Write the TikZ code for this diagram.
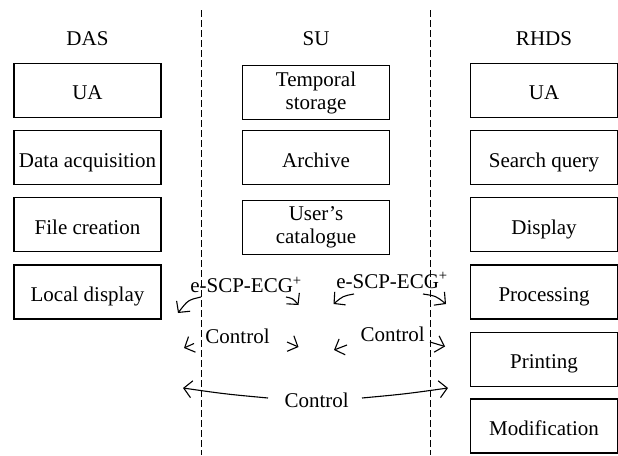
\documentclass[tikz,border=0pt]{standalone}
\usepackage{fontspec}
\setmainfont{Liberation Serif}
\usetikzlibrary{arrows.meta}

\begin{document}
\begin{tikzpicture}[x=1pt,y=-1pt,
  txt/.style={font=\fontsize{21}{23.3}\selectfont, inner sep=0pt},
  frame/.style={txt, draw, line width=1.2pt, minimum width=147pt, minimum height=54pt},
  boxone/.style={frame, text height=20pt, text depth=1pt},
  boxtwo/.style={frame, align=center, yshift=-2.5pt},
  title/.style={txt, anchor=base},
  lbl/.style={txt, anchor=base},
  divider/.style={line width=1pt, dash pattern=on 6.5pt off 3.5pt},
  flow/.style={line width=1.1pt, -{Straight Barb[length=8pt 0 0,width=17pt 0 0]}}
]
\useasboundingbox (0,0) rectangle (618,455);

% column headings
\node[title] (tdas) at (87.5,45) {DAS};
\node[title] (tsu)  at (316,45)  {SU};
\node[title] (trh)  at (544,45)  {RHDS};

% dividers between the three units
\coordinate (d1t) at (201,10);  \coordinate (d1b) at (201,455);
\coordinate (d2t) at (430,10);  \coordinate (d2b) at (430,455);
\draw[divider] (d1t) -- (d1b);
\draw[divider] (d2t) -- (d2b);

% DAS
\node[boxone] (das1) at (87.5,90.3)  {UA};
\node[boxone] (das2) at (87.5,157.5) {Data acquisition};
\node[boxone] (das3) at (87.5,224.7) {File creation};
\node[boxone] (das4) at (87.5,292)   {Local display};

% SU
\node[boxtwo] (su1) at (316,90.3)  {Temporal\\storage};
\node[boxone] (su2) at (316,157.5) {Archive};
\node[boxtwo] (su3) at (316,224.7) {User's\\catalogue};

% RHDS
\node[boxone] (rh1) at (544,90.3)  {UA};
\node[boxone] (rh2) at (544,157.5) {Search query};
\node[boxone] (rh3) at (544,224.7) {Display};
\node[boxone] (rh4) at (544,292)   {Processing};
\node[boxone] (rh5) at (544,359.3) {Printing};
\node[boxone] (rh6) at (544,426)   {Modification};

% exchange labels
\node[lbl] (ecgA) at (246,292.7) {e-SCP-ECG\textsuperscript{+}};
\node[lbl] (ecgB) at (392,288.3) {e-SCP-ECG\textsuperscript{+}};
\node[lbl] (ctlA) at (237.5,343.3) {Control};
\node[lbl] (ctlB) at (392.7,341.7) {Control};
\node[lbl] (ctlC) at (316.7,407.3) {Control};

% arrow ends
\coordinate (a1s) at (201,297);   \coordinate (a1e) at (178,313);
\coordinate (a2s) at (286,297);   \coordinate (a2e) at (298.5,305);
\coordinate (a3s) at (354,294);   \coordinate (a3e) at (333.5,304);
\coordinate (a4s) at (423,294);   \coordinate (a4e) at (446,304);
\coordinate (b1s) at (194,343.5); \coordinate (b1e) at (184,348);
\coordinate (b2s) at (287,342);   \coordinate (b2e) at (298.5,347);
\coordinate (b3s) at (347,345);   \coordinate (b3e) at (334,350);
\coordinate (b4s) at (430,342);   \coordinate (b4e) at (445,346.5);
\coordinate (c1s) at (268,398);   \coordinate (c1e) at (183,388);
\coordinate (c2s) at (362,398);   \coordinate (c2e) at (448,388);

% e-SCP-ECG+ transfers
\draw[flow] (a1s) .. controls (188,300) .. (a1e);
\draw[flow] (a2s) .. controls (293,298.5) .. (a2e);
\draw[flow] (a3s) .. controls (343,296) .. (a3e);
\draw[flow] (a4s) .. controls (436,296) .. (a4e);

% control exchanges
\draw[flow] (b1s) -- (b1e);
\draw[flow] (b2s) -- (b2e);
\draw[flow] (b3s) -- (b3e);
\draw[flow] (b4s) -- (b4e);
\draw[flow] (c1s) .. controls (225,394) .. (c1e);
\draw[flow] (c2s) .. controls (405,394) .. (c2e);
\end{tikzpicture}
\end{document}
